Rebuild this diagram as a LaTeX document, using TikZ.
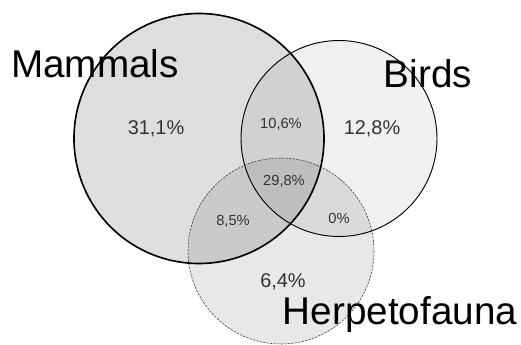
\documentclass[tikz,border=0pt]{standalone}
\usepackage{fontspec}
\setmainfont{Liberation Sans}

\begin{document}
\begin{tikzpicture}[x=0.03cm, y=-0.03cm,
	every node/.style={inner sep=0pt, anchor=base},
	setname/.style={font=\fontsize{33}{36}\selectfont},
	bigpct/.style={font=\fontsize{17}{20}\selectfont, text=black!80},
	smallpct/.style={font=\fontsize{12.5}{15}\selectfont, text=black!80}]
	\useasboundingbox (0,0) rectangle (521,345);
	\fill[black, fill opacity=0.13] (199,138.5) circle[radius=125];
	\fill[black, fill opacity=0.06] (339,138.5) circle[radius=98];
	\fill[black, fill opacity=0.09] (281,251) circle[radius=93];
	\draw[black!75, dash pattern=on 2pt off 1pt, line width=0.5pt] (281,251) circle[radius=93];
	\draw[black, line width=1.4pt] (199,138.5) circle[radius=125];
	\draw[black, line width=0.8pt] (339,138.5) circle[radius=98];
	\node[setname] (mammals) at (95,78) {Mammals};
	\node[setname] (birds) at (428,88) {Birds};
	\node[setname] (herpetofauna) at (400,325) {Herpetofauna};
	\node[bigpct] (monly) at (156,135) {31,1\%};
	\node[bigpct] (bonly) at (372,135) {12,8\%};
	\node[bigpct] (honly) at (283,288) {6,4\%};
	\node[smallpct] (mb) at (281,129) {10,6\%};
	\node[smallpct] (mbh) at (284,186) {29,8\%};
	\node[smallpct] (mh) at (233,226) {8,5\%};
	\node[smallpct] (bh) at (339,224) {0\%};
\end{tikzpicture}
\end{document}
